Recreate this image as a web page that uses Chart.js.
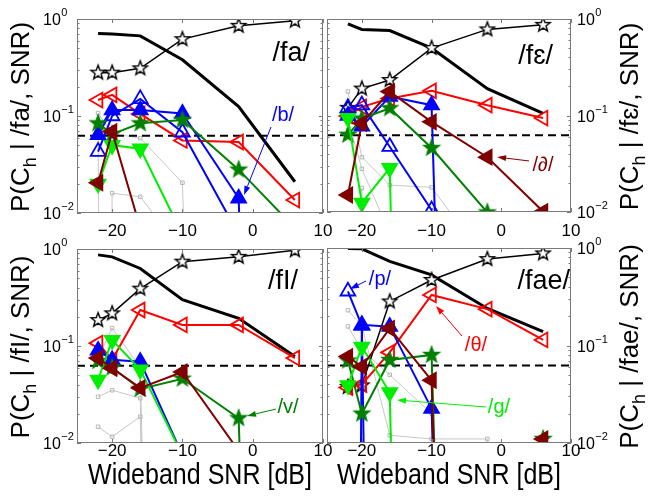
<!DOCTYPE html>
<html>
<head>
<meta charset="utf-8">
<script src="https://cdn.jsdelivr.net/npm/chart.js@4/dist/chart.umd.min.js"></script>
<style>
  html, body { margin: 0; padding: 0; background: #fff; }
  #wrap { position: relative; width: 649px; height: 498px; }
  #wrap canvas { position: absolute; left: 0; top: 0; }
</style>
</head>
<body>
<div id="wrap">
  <canvas id="cFa" width="649" height="498"></canvas>
  <canvas id="cFe" width="649" height="498"></canvas>
  <canvas id="cFi" width="649" height="498"></canvas>
  <canvas id="cFae" width="649" height="498"></canvas>
</div>
<script>
// SNR conditions (dB) shared by every curve
const snr = [-22, -20, -16, -10, -2, 6];
const chance = 1 / 16;
const xRange = [-25, 10];
const xTicks = [-20, -10, 0, 10];
const yTickExps = [0, -1, -2];
// zero probabilities can't sit on a log axis, push them far below
const FLOOR = 1e-20;

// /fa/
const faCorrect = [0.28, 0.28, 0.31, 0.62, 0.85, 0.96];
const faError   = [0.71, 0.70, 0.67, 0.38, 0.125, 0.021];
const faRed     = [0.146, 0.165, 0.105, 0.056, 0.054, 0.0136];
const faBlueO   = [0.043, 0.10, 0.15, 0.068, 0.006, 0];
const faBlueF   = [0.064, 0.115, 0.115, 0.106, 0.0142, 0];
const faStar    = [0.084, 0.065, 0.084, 0.091, 0.028, 0.007];
const faLime    = [0.02, 0.05, 0.046, 0.006, 0, 0];
const faMaroon  = [0.0205, 0.069, 0.007, 0, 0, 0];
const faGray1   = [0.107, 0.066, 0.059, 0.0205, 0, 0];
const faGray2   = [0, 0.016, 0.0147, 0.004, 0, 0];
const faGray3   = [0.06, 0, 0, 0, 0, 0];

// /fε/
const feCorrect = [0.12, 0.19, 0.233, 0.50, 0.78, 0.87];
const feError   = [0.89, 0.78, 0.76, 0.50, 0.19, 0.105];
const feRed     = [0.099, 0.123, 0.15, 0.18, 0.128, 0.094];
const feBlueO   = [0.12, 0.128, 0.0475, 0.0105, 0, 0];
const feBlueF   = [0.10, 0.077, 0.157, 0.128, 0, 0];
const feStar    = [0.063, 0.093, 0.119, 0.046, 0.0099, 0];
const feLime    = [0.094, 0.0124, 0.0285, 0, 0, 0];
const feMaroon  = [0.015, 0.083, 0.177, 0.086, 0.037, 0.0101];
const feGray1   = [0.177, 0.037, 0.019, 0.018, 0.003, 0];
const feGray2   = [0.09, 0.028, 0.006, 0.004, 0, 0];
const feGray3   = [0, 0.0177, 0, 0, 0, 0];

// /fI/
const fiCorrect = [0.185, 0.217, 0.39, 0.74, 0.83, 0.97];
const fiError   = [0.87, 0.83, 0.63, 0.30, 0.193, 0.078];
const fiRed     = [0.107, 0.072, 0.235, 0.165, 0.165, 0.075];
const fiBlueF   = [0.09, 0.072, 0.069, 0.0075, 0, 0];
const fiStar    = [0.07, 0.06, 0.036, 0.046, 0.018, 0];
const fiLime    = [0.0446, 0.115, 0.057, 0.0075, 0, 0];
const fiMaroon  = [0.075, 0.059, 0.037, 0.054, 0.0083, 0];
const fiGray1   = [0.075, 0.153, 0.06, 0, 0, 0];
const fiGray2   = [0.03, 0.035, 0.029, 0, 0, 0];
const fiGray3   = [0.0147, 0.0116, 0.0187, 0, 0, 0];

// /fae/
const faeCorrect = [0.0376, 0.039, 0.283, 0.47, 0.77, 0.88];
const faeError   = [0.99, 0.98, 0.73, 0.53, 0.24, 0.139];
const faeRed     = [0.037, 0.04, 0.085, 0.33, 0.236, 0.114];
const faeBlueO   = [0.36, 0.16, 0, 0, 0, 0];
const faeBlueF   = [0, 0.163, 0.156, 0.0225, 0, 0];
const faeStar    = [0.07, 0.02, 0.071, 0.08, 0, 0.011];
const faeLime    = [0.039, 0.097, 0.033, 0, 0, 0];
const faeMaroon  = [0.077, 0.0605, 0.15, 0.044, 0, 0.011];
const faeGray1   = [0.23, 0.16, 0.012, 0.011, 0.011, 0];
const faeGray2   = [0.157, 0.09, 0.05, 0.02, 0, 0];

const FONT = '"Liberation Sans", Arial, Helvetica, sans-serif';
const RED = '#ff0000', BLUE = '#0000ff', GREEN = '#008000', LIME = '#00ee00', MAROON = '#800000';

// pentagram markers
function starImage(r, fill, stroke, lw) {
  const s = Math.ceil(2 * r + 2 * lw + 2);
  const c = document.createElement('canvas');
  c.width = s; c.height = s;
  const g = c.getContext('2d');
  g.translate(s / 2, s / 2);
  g.beginPath();
  for (let i = 0; i < 10; i++) {
    const rr = i % 2 ? r * 0.42 : r;
    const a = -Math.PI / 2 + i * Math.PI / 5;
    g.lineTo(rr * Math.cos(a), rr * Math.sin(a));
  }
  g.closePath();
  if (fill) { g.fillStyle = fill; g.fill(); }
  g.lineWidth = lw;
  g.strokeStyle = stroke;
  g.lineJoin = 'miter';
  g.stroke();
  return c;
}
const openStar = starImage(7.5, '#ffffff', '#000', 1.4);
const greenStar = starImage(8.5, GREEN, GREEN, 1.2);

const NONE = 'rgba(0,0,0,0)';
function tri(color, rot, filled) {
  return {
    borderColor: color, borderWidth: 2, pointStyle: 'triangle', pointRotation: rot,
    pointRadius: 8.5, pointBorderWidth: 1.8, pointBorderColor: color,
    pointBackgroundColor: filled ? color : NONE
  };
}
const styles = {
  gray: { borderColor: '#c8c8c8', borderWidth: 1, pointStyle: 'rect', pointRadius: 2.5,
          pointBorderWidth: 1, pointBorderColor: '#b8b8b8', pointBackgroundColor: NONE },
  chance: { borderColor: '#000', borderWidth: 2, borderDash: [8, 5], pointRadius: 0 },
  error: { borderColor: '#000', borderWidth: 3, pointRadius: 0 },
  correct: { borderColor: '#000', borderWidth: 1.5, pointStyle: openStar, pointRadius: 7 },
  red: tri(RED, -90, false),
  blueO: tri(BLUE, 0, false),
  blueF: tri(BLUE, 0, true),
  star: { borderColor: GREEN, borderWidth: 2, pointStyle: greenStar, pointRadius: 8 },
  lime: tri(LIME, 180, true),
  maroon: tri(MAROON, -90, true)
};

function series(values, style) {
  return Object.assign({
    data: values.map((v, i) => ({ x: snr[i], y: v === 0 ? FLOOR : v })),
    tension: 0
  }, style);
}
function chanceLine() {
  return Object.assign({ data: [{ x: xRange[0], y: chance }, { x: xRange[1], y: chance }] }, styles.chance);
}

// frame, inward ticks, tick labels, titles and arrow labels
function drawArrow(ctx, x1, y1, x2, y2, color) {
  const a = Math.atan2(y2 - y1, x2 - x1), L = 9, W = 3;
  const bx = x2 - L * Math.cos(a), by = y2 - L * Math.sin(a);
  ctx.strokeStyle = color; ctx.fillStyle = color; ctx.lineWidth = 1;
  ctx.beginPath(); ctx.moveTo(x1, y1); ctx.lineTo(bx, by); ctx.stroke();
  ctx.beginPath();
  ctx.moveTo(x2, y2);
  ctx.lineTo(bx + W * Math.sin(a), by - W * Math.cos(a));
  ctx.lineTo(bx - W * Math.sin(a), by + W * Math.cos(a));
  ctx.closePath(); ctx.fill();
}

const panelPlugin = {
  id: 'panel',
  afterDraw(chart, args, o) {
    const ctx = chart.ctx;
    const { left, top, right, bottom } = chart.chartArea;
    const xs = chart.scales.x, ys = chart.scales.y;
    ctx.save();

    // box
    ctx.strokeStyle = '#7a7a7a';
    ctx.lineWidth = 1;
    ctx.strokeRect(Math.round(left) + 0.5, Math.round(top) + 0.5,
                   Math.round(right - left) - 1, Math.round(bottom - top) - 1);

    // inward ticks
    ctx.beginPath();
    xTicks.forEach(t => {
      const px = Math.round(xs.getPixelForValue(t)) + 0.5;
      ctx.moveTo(px, bottom); ctx.lineTo(px, bottom - 4);
      ctx.moveTo(px, top); ctx.lineTo(px, top + 4);
    });
    for (let e = -2; e < 0; e++) {
      for (let m = 1; m < 10; m++) {
        const py = Math.round(ys.getPixelForValue(m * Math.pow(10, e))) + 0.5;
        const len = m === 1 ? 4 : 2.5;
        ctx.moveTo(left, py); ctx.lineTo(left + len, py);
        ctx.moveTo(right, py); ctx.lineTo(right - len, py);
      }
    }
    ctx.stroke();

    // x tick labels
    ctx.fillStyle = '#000';
    ctx.font = '17px ' + FONT;
    ctx.textAlign = 'center';
    ctx.textBaseline = 'middle';
    xTicks.forEach(t => {
      const label = t < 0 ? '\u2212' + Math.abs(t) : String(t);
      ctx.fillText(label, xs.getPixelForValue(t), bottom + o.xLabelGap);
    });

    // y tick labels: 10 with superscript exponent
    ctx.textAlign = 'left';
    yTickExps.forEach(e => {
      const py = ys.getPixelForValue(Math.pow(10, e)) + 2;
      ctx.font = '16px ' + FONT;
      ctx.fillText('10', o.yLabelX, py);
      const w = ctx.measureText('10').width;
      ctx.font = '11px ' + FONT;
      ctx.fillText(e < 0 ? '\u2212' + Math.abs(e) : String(e), o.yLabelX + w + 0.5, py - 8);
    });

    // y title P(C_h | /x/, SNR), rotated
    ctx.save();
    ctx.translate(o.yTitleX, (top + bottom) / 2 + 1);
    ctx.rotate(-Math.PI / 2);
    const parts = [['P(C', '26px ', 0], ['h', '18px ', 7], [' | /' + o.phone + '/, SNR)', '26px ', 0]];
    let total = 0;
    parts.forEach(p => { ctx.font = p[1] + FONT; total += ctx.measureText(p[0]).width; });
    let cx = -total / 2;
    ctx.textBaseline = 'alphabetic';
    parts.forEach(p => {
      ctx.font = p[1] + FONT;
      ctx.fillText(p[0], cx, 9 + p[2]);
      cx += ctx.measureText(p[0]).width;
    });
    ctx.restore();

    // x title
    if (o.xTitle) {
      ctx.save();
      ctx.font = '29px ' + FONT;
      const txt = 'Wideband SNR [dB]';
      const w = ctx.measureText(txt).width;
      ctx.translate((left + right) / 2, 484);
      ctx.scale(224 / w, 1);
      ctx.textAlign = 'center';
      ctx.textBaseline = 'alphabetic';
      ctx.fillText(txt, 0, 0);
      ctx.restore();
    }

    // panel title
    const t = o.title;
    ctx.font = '27px ' + FONT;
    ctx.textAlign = 'right';
    ctx.textBaseline = 'alphabetic';
    ctx.fillStyle = '#000';
    ctx.fillText(t.text, xs.getPixelForValue(t.x), ys.getPixelForValue(t.y));

    // arrowed labels
    (o.notes || []).forEach(n => {
      ctx.font = '20px ' + FONT;
      ctx.textAlign = 'center';
      ctx.textBaseline = 'middle';
      ctx.fillStyle = n.color;
      ctx.fillText(n.text, xs.getPixelForValue(n.x), ys.getPixelForValue(n.y));
      drawArrow(ctx,
        xs.getPixelForValue(n.from[0]), ys.getPixelForValue(n.from[1]),
        xs.getPixelForValue(n.to[0]), ys.getPixelForValue(n.to[1]), n.color);
    });
    ctx.restore();
  }
};

function makePanel(id, area, layers, panel) {
  // layers listed bottom first; Chart.js paints index 0 last
  const datasets = layers.slice().reverse();
  return new Chart(document.getElementById(id), {
    type: 'line',
    data: { datasets },
    options: {
      responsive: false,
      animation: false,
      events: [],
      layout: { padding: { left: area.left, top: area.top, right: 649 - area.right, bottom: 498 - area.bottom } },
      scales: {
        x: { type: 'linear', min: xRange[0], max: xRange[1], display: false },
        y: { type: 'logarithmic', min: 0.01, max: 1, display: false }
      },
      plugins: { legend: { display: false }, tooltip: { enabled: false }, panel }
    },
    plugins: [panelPlugin]
  });
}

makePanel('cFa', { left: 77, top: 19, right: 323, bottom: 213 }, [
  series(faGray1, styles.gray), series(faGray2, styles.gray), series(faGray3, styles.gray),
  chanceLine(),
  series(faError, styles.error),
  series(faCorrect, styles.correct),
  series(faRed, styles.red),
  series(faBlueO, styles.blueO),
  series(faBlueF, styles.blueF),
  series(faStar, styles.star),
  series(faLime, styles.lime),
  series(faMaroon, styles.maroon)
], {
  phone: 'fa', yLabelX: 43, yTitleX: 20, xLabelGap: 18, xTitle: false,
  title: { text: '/fa/', x: 8.15, y: 0.369 },
  notes: [{ text: '/b/', color: BLUE, x: 4.31, y: 0.102, from: [2.6, 0.077], to: [-1.24, 0.0153] }]
});

makePanel('cFe', { left: 327, top: 19, right: 571, bottom: 212 }, [
  series(feGray1, styles.gray), series(feGray2, styles.gray), series(feGray3, styles.gray),
  chanceLine(),
  series(feError, styles.error),
  series(feCorrect, styles.correct),
  series(feRed, styles.red),
  series(feBlueO, styles.blueO),
  series(feBlueF, styles.blueF),
  series(feStar, styles.star),
  series(feLime, styles.lime),
  series(feMaroon, styles.maroon)
], {
  phone: 'f\u025B', yLabelX: 577, yTitleX: 629, xLabelGap: 19, xTitle: false,
  title: { text: '/f\u025B/', x: 7.42, y: 0.342 },
  notes: [{ text: '/\u2202/', color: MAROON, x: 5.98, y: 0.0307, from: [3.98, 0.0338], to: [-0.61, 0.0371] }]
});

makePanel('cFi', { left: 77, top: 249, right: 323, bottom: 443 }, [
  series(fiGray1, styles.gray), series(fiGray2, styles.gray), series(fiGray3, styles.gray),
  chanceLine(),
  series(fiError, styles.error),
  series(fiCorrect, styles.correct),
  series(fiRed, styles.red),
  series(fiBlueF, styles.blueF),
  series(fiStar, styles.star),
  series(fiLime, styles.lime),
  series(fiMaroon, styles.maroon)
], {
  phone: 'fI', yLabelX: 43, yTitleX: 20, xLabelGap: 8, xTitle: true,
  title: { text: '/fI/', x: 6.44, y: 0.386 },
  notes: [{ text: '/v/', color: GREEN, x: 5.02, y: 0.0235, from: [3.31, 0.0224], to: [-0.81, 0.019] }]
});

makePanel('cFae', { left: 327, top: 248, right: 571, bottom: 443 }, [
  series(faeGray1, styles.gray), series(faeGray2, styles.gray),
  chanceLine(),
  series(faeError, styles.error),
  series(faeCorrect, styles.correct),
  series(faeRed, styles.red),
  series(faeBlueO, styles.blueO),
  series(faeBlueF, styles.blueF),
  series(faeStar, styles.star),
  series(faeLime, styles.lime),
  series(faeMaroon, styles.maroon)
], {
  phone: 'fae', yLabelX: 577, yTitleX: 629, xLabelGap: 8, xTitle: true,
  title: { text: '/fae/', x: 9.86, y: 0.38 },
  notes: [
    { text: '/p/', color: BLUE, x: -17.4, y: 0.481, from: [-19.4, 0.459], to: [-21.7, 0.38] },
    { text: '/\u03B8/', color: RED, x: -3.63, y: 0.0989, from: [-5.63, 0.125], to: [-9.36, 0.254] },
    { text: '/g/', color: LIME, x: -0.33, y: 0.0234, from: [-2.19, 0.0234], to: [-14.96, 0.0276] }
  ]
});
</script>
</body>
</html>
